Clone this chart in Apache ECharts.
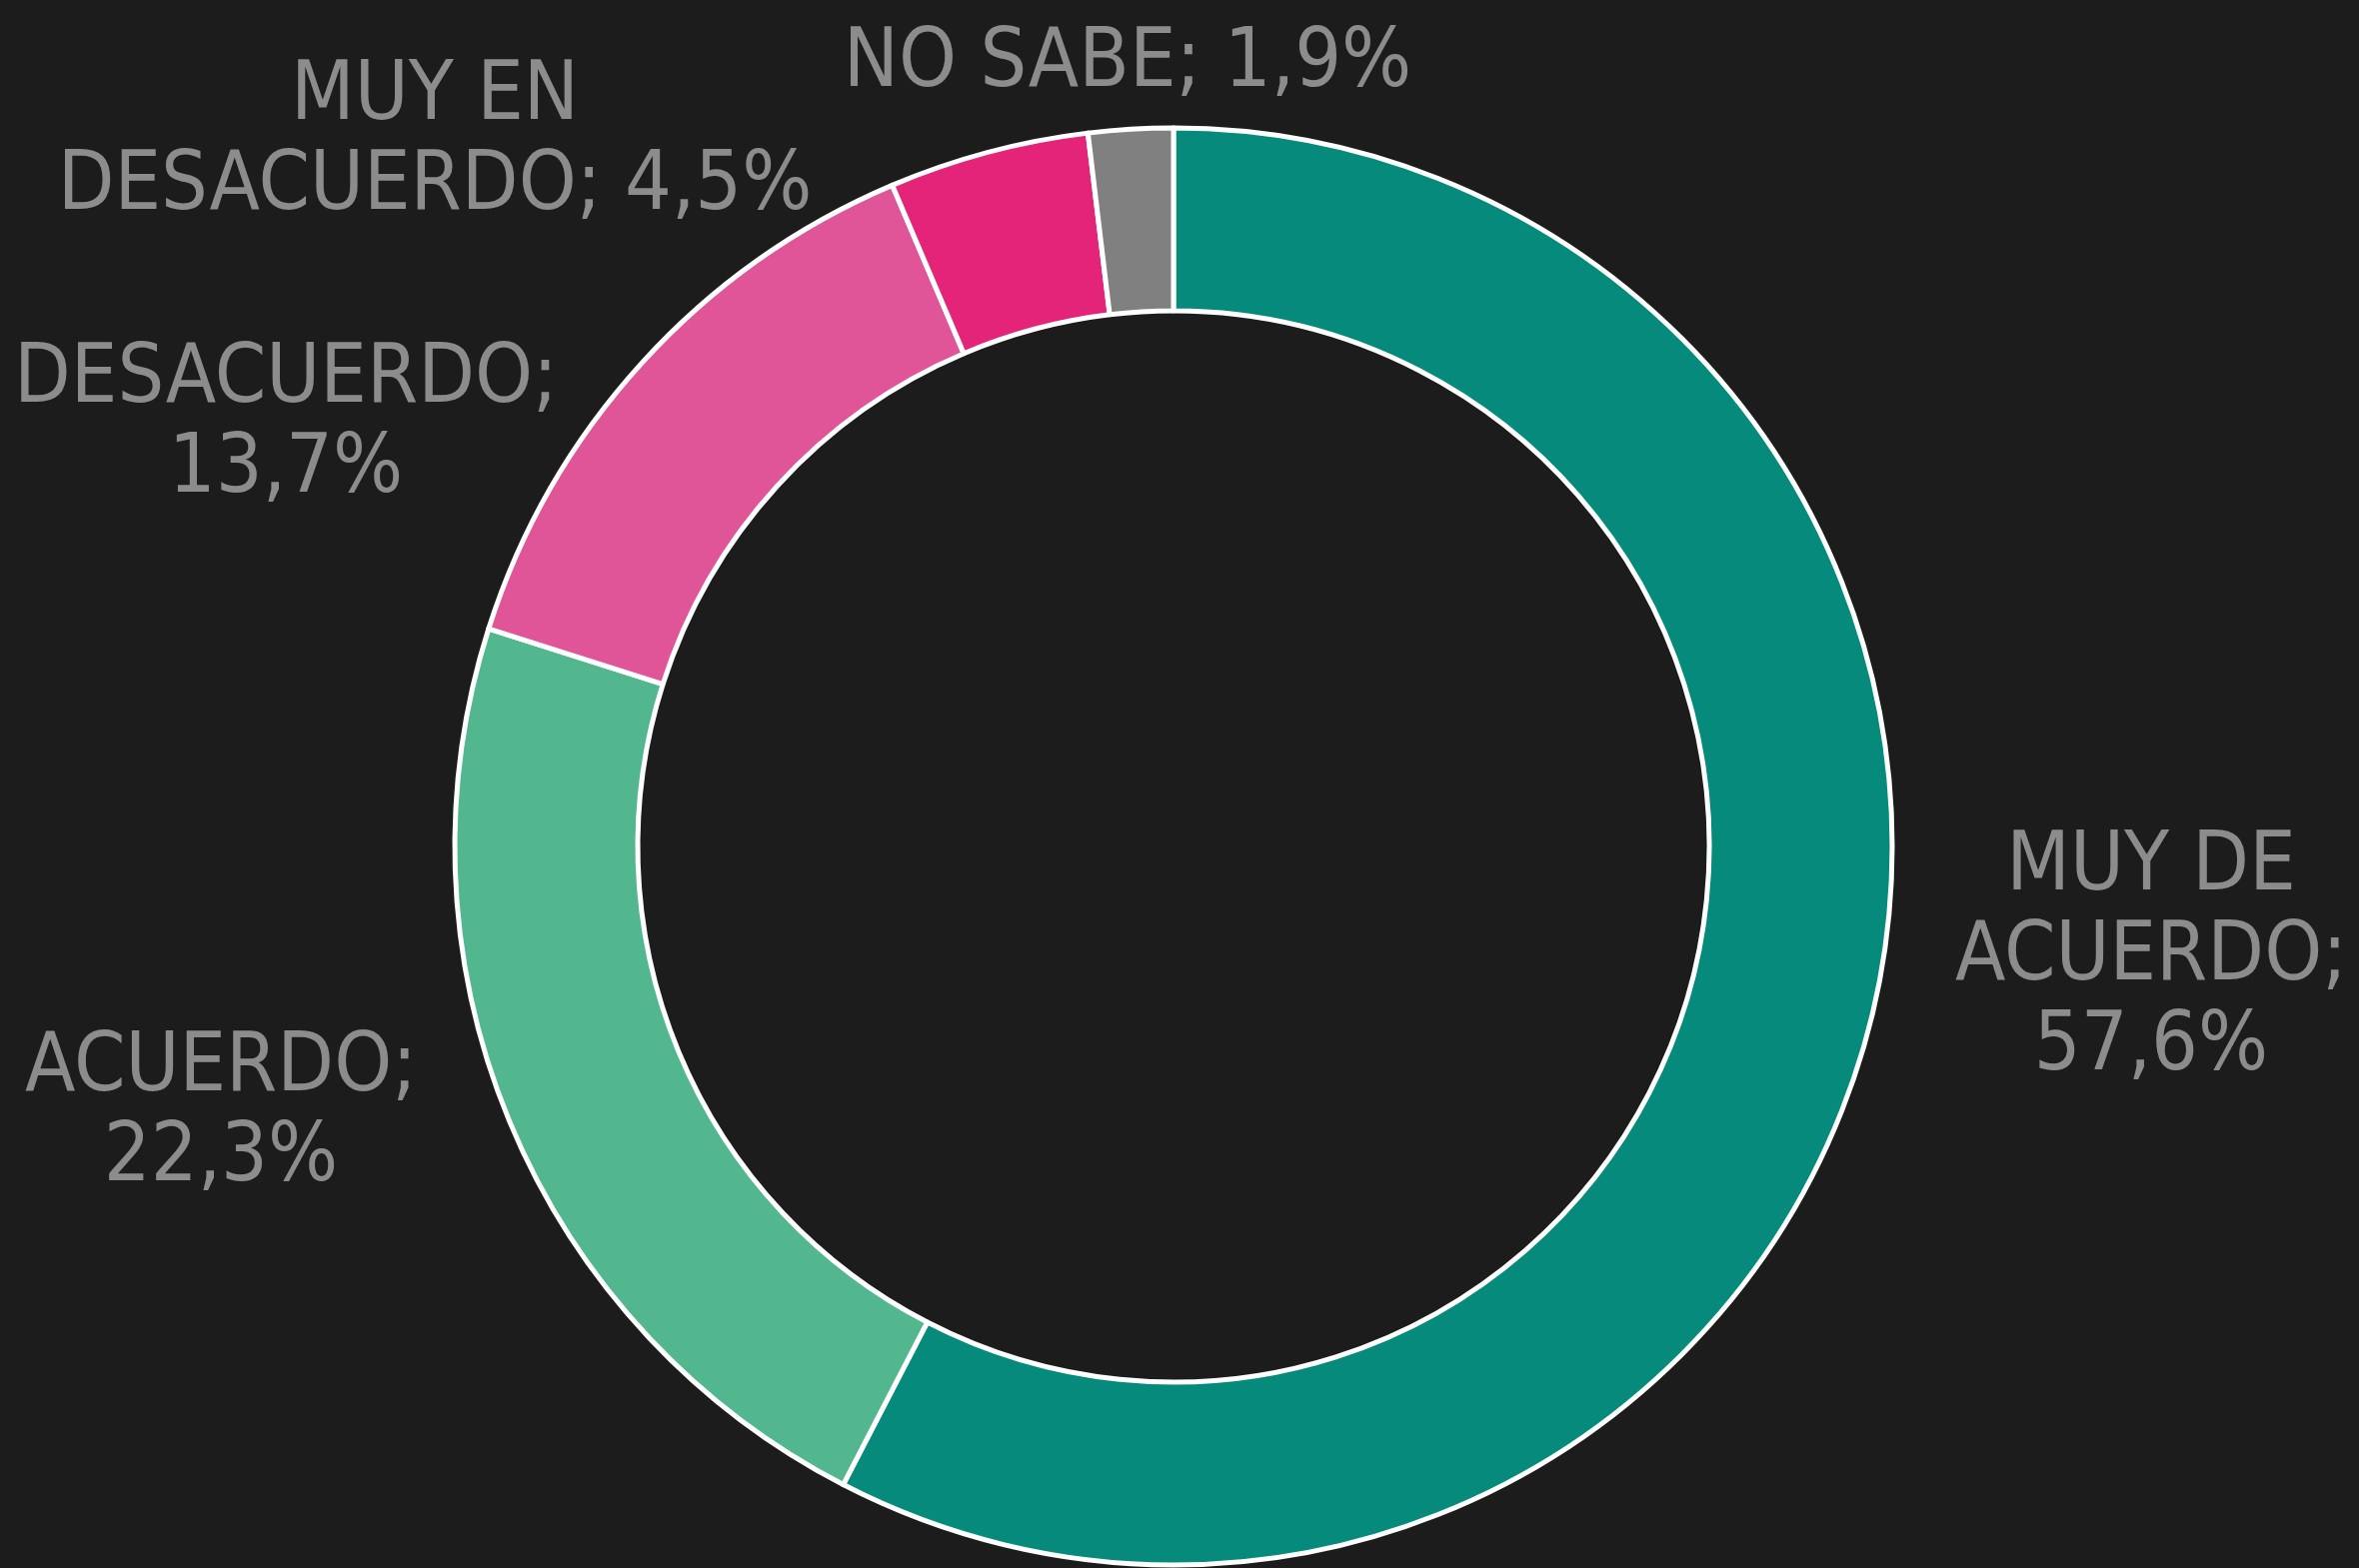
<!DOCTYPE html>
<html>
<head>
<meta charset="utf-8">
<script src="https://cdn.jsdelivr.net/npm/echarts@6/dist/echarts.min.js"></script>
<style>
  html, body { margin: 0; padding: 0; background: #1d1c1c; }
  #chart { width: 2360px; height: 1569px; }
</style>
</head>
<body>
<div id="chart"></div>
<script>
// datos de la encuesta
var categories = ['MUY DE ACUERDO', 'ACUERDO', 'DESACUERDO', 'MUY EN DESACUERDO', 'NO SABE'];
var values = [57.6, 22.3, 13.7, 4.5, 1.9];
var labelTexts = ['MUY DE\nACUERDO;\n57,6%', 'ACUERDO;\n22,3%', 'DESACUERDO;\n13,7%', 'MUY EN\nDESACUERDO; 4,5%', 'NO SABE; 1,9%'];
var colors = ['#058a7b', '#52b68f', '#e05598', '#e42478', '#808080'];

// posiciones de las etiquetas (centro del texto)
var labelPos = [[2152, 959], [221, 1115], [286, 426], [435, 143], [1128, 65]];

var chart = echarts.init(document.getElementById('chart'));
var option = {
  backgroundColor: '#1d1c1c',
  animation: false,
  series: [
    {
      type: 'pie',
      center: [1174, 847],
      radius: [536, 719],
      startAngle: 90,
      clockwise: true,
      avoidLabelOverlap: false,
      data: categories.map(function (c, i) {
        return { name: c, value: values[i], itemStyle: { color: colors[i] } };
      }),
      itemStyle: {
        borderColor: '#ffffff',
        borderWidth: 5
      },
      label: {
        show: true,
        position: 'outside',
        overflow: 'none',
        formatter: function (p) { return labelTexts[p.dataIndex]; },
        color: '#8c8c8c',
        fontFamily: '"Liberation Sans Narrow", "DejaVu Sans Condensed", sans-serif',
        fontSize: 82,
        lineHeight: 90,
        align: 'center',
        verticalAlign: 'middle'
      },
      labelLine: { show: false },
      labelLayout: function (params) {
        var pos = labelPos[params.dataIndex];
        return { x: pos[0], y: pos[1], align: 'center', verticalAlign: 'middle' };
      }
    }
  ]
};
chart.setOption(option);
</script>
</body>
</html>
